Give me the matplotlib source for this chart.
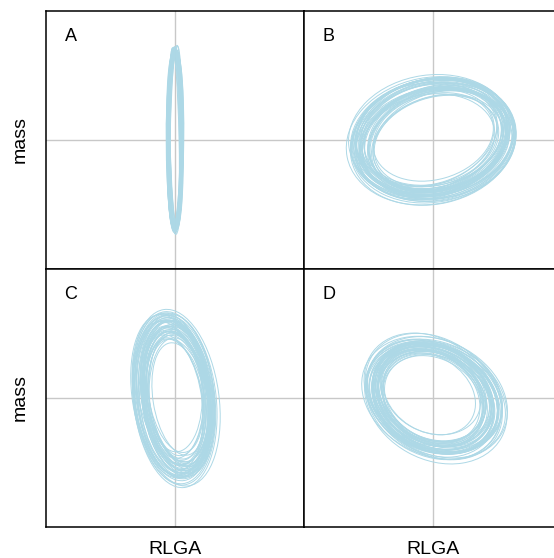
import matplotlib
matplotlib.use("Agg")
import matplotlib.pyplot as plt
from matplotlib.patches import Ellipse

plt.rcParams['font.family'] = ['Liberation Sans', 'DejaVu Sans']

# ellipse parameters per panel (full width, full height, angle in degrees, centre x, centre y)
A_w = [0.10, 0.12, 0.08, 0.11, 0.13, 0.09, 0.10, 0.12, 0.07, 0.11, 0.10, 0.09, 0.12, 0.13, 0.08,
       0.11, 0.10, 0.12, 0.09, 0.11, 0.10, 0.08, 0.13, 0.11, 0.09, 0.12, 0.10, 0.11, 0.08, 0.12]
A_h = [1.40, 1.38, 1.42, 1.36, 1.39, 1.43, 1.37, 1.41, 1.38, 1.35, 1.42, 1.40, 1.36, 1.39, 1.44,
       1.38, 1.41, 1.37, 1.40, 1.43, 1.36, 1.39, 1.38, 1.42, 1.37, 1.40, 1.41, 1.35, 1.39, 1.38]
A_ang = [0.5, -0.8, 1.0, -0.3, 0.2, -1.2, 0.7, -0.5, 1.3, -0.9, 0.1, 0.6, -0.4, 0.9, -1.0,
         0.3, -0.6, 1.1, -0.2, 0.4, -1.1, 0.8, -0.7, 0.0, 1.2, -0.1, 0.5, -1.3, 0.3, -0.4]
A_cx = [0.000, 0.005, -0.005, 0.003, -0.003, 0.004, -0.002, 0.001, -0.004, 0.002, 0.000, -0.005, 0.004, -0.001, 0.003,
        -0.003, 0.005, 0.000, -0.002, 0.002, -0.004, 0.001, 0.003, -0.001, 0.004, -0.005, 0.002, 0.000, -0.003, 0.001]
A_cy = [0.01, -0.01, 0.00, 0.02, -0.02, 0.01, 0.00, -0.01, 0.02, 0.00, -0.02, 0.01, 0.00, -0.01, 0.01,
        0.02, -0.01, 0.00, 0.01, -0.02, 0.00, 0.02, -0.01, 0.01, 0.00, -0.02, 0.01, 0.00, 0.02, -0.01]

B_w = [1.20, 1.10, 1.28, 1.05, 1.16, 1.24, 0.98, 1.14, 1.30, 1.08, 1.18, 1.22, 1.02, 1.12, 1.26,
       1.06, 1.20, 1.15, 0.95, 1.25, 1.10, 1.19, 1.32, 1.04, 1.13, 1.23, 1.00, 1.17, 1.27, 1.09,
       1.14, 1.21, 1.07, 1.29, 1.11, 1.17, 1.03, 1.24, 1.16, 1.12, 1.26, 1.08, 1.19, 1.13, 1.22]
B_h = [0.86, 0.78, 0.94, 0.72, 0.84, 0.90, 0.68, 0.80, 0.96, 0.76, 0.88, 0.82, 0.70, 0.79, 0.92,
       0.74, 0.85, 0.83, 0.66, 0.91, 0.77, 0.87, 0.98, 0.73, 0.81, 0.89, 0.69, 0.84, 0.93, 0.75,
       0.82, 0.88, 0.76, 0.95, 0.80, 0.85, 0.72, 0.90, 0.83, 0.79, 0.92, 0.77, 0.86, 0.81, 0.89]
B_ang = [12, 16, 8, 20, 14, 10, 18, 6, 13, 22, 11, 15, 9, 17, 12,
         19, 7, 14, 16, 10, 21, 13, 11, 17, 8, 15, 18, 12, 9, 14,
         13, 10, 16, 11, 15, 12, 18, 9, 14, 17, 10, 15, 11, 13, 16]
B_cx = [0.00, 0.03, -0.02, 0.04, -0.03, 0.01, 0.02, -0.04, 0.00, 0.03, -0.01, 0.02, -0.03, 0.04, 0.01,
        -0.02, 0.03, -0.01, 0.00, 0.02, -0.04, 0.01, -0.02, 0.03, 0.00, -0.03, 0.02, 0.01, -0.01, 0.04,
        0.01, -0.02, 0.02, 0.00, -0.01, 0.03, -0.03, 0.01, 0.02, -0.02, 0.00, 0.03, -0.01, 0.01, -0.03]
B_cy = [0.01, -0.02, 0.03, 0.00, -0.03, 0.02, -0.01, 0.04, -0.02, 0.01, 0.03, -0.04, 0.00, 0.02, -0.01,
        0.03, -0.03, 0.01, 0.02, -0.02, 0.00, 0.04, -0.01, -0.03, 0.02, 0.01, -0.02, 0.03, 0.00, -0.01,
        -0.02, 0.02, 0.00, -0.01, 0.03, -0.03, 0.01, 0.02, -0.02, 0.00, 0.01, -0.01, 0.03, -0.02, 0.02]

C_w = [0.52, 0.46, 0.60, 0.42, 0.56, 0.50, 0.64, 0.44, 0.54, 0.48, 0.58, 0.40, 0.53, 0.62, 0.47,
       0.55, 0.45, 0.59, 0.51, 0.43, 0.57, 0.49, 0.66, 0.46, 0.54, 0.41, 0.58, 0.50, 0.63, 0.47,
       0.53, 0.49, 0.56, 0.45, 0.60, 0.51, 0.48, 0.57, 0.52, 0.44, 0.55, 0.50, 0.58, 0.47, 0.54]
C_h = [1.16, 1.04, 1.30, 0.96, 1.22, 1.10, 1.36, 0.92, 1.18, 1.06, 1.26, 0.88, 1.14, 1.32, 1.02,
       1.20, 0.98, 1.28, 1.12, 0.94, 1.24, 1.08, 1.38, 1.00, 1.17, 0.90, 1.27, 1.11, 1.34, 1.05,
       1.15, 1.08, 1.21, 1.01, 1.29, 1.13, 1.06, 1.24, 1.18, 0.99, 1.19, 1.10, 1.25, 1.04, 1.16]
C_ang = [7, 5, 9, 4, 8, 11, 6, 3, 10, 7, 5, 9, 12, 6, 8,
         4, 10, 7, 5, 9, 6, 11, 8, 3, 7, 10, 5, 8, 6, 9,
         6, 8, 7, 5, 9, 7, 10, 6, 8, 4, 7, 9, 6, 8, 5]
C_cx = [0.00, 0.02, -0.03, 0.01, -0.02, 0.03, 0.00, -0.01, 0.02, -0.03, 0.01, 0.03, -0.02, 0.00, 0.02,
        -0.01, 0.03, -0.02, 0.01, 0.00, -0.03, 0.02, 0.01, -0.01, 0.03, 0.00, -0.02, 0.02, -0.01, 0.01,
        0.01, -0.01, 0.02, 0.00, -0.02, 0.01, 0.03, -0.01, 0.00, 0.02, -0.02, 0.01, 0.00, -0.01, 0.02]
C_cy = [0.02, -0.03, 0.00, 0.03, -0.01, 0.01, -0.02, 0.04, 0.00, -0.04, 0.02, -0.01, 0.03, -0.02, 0.01,
        0.00, -0.03, 0.02, 0.04, -0.01, 0.01, -0.02, 0.00, 0.03, -0.03, 0.02, 0.01, -0.04, 0.00, 0.02,
        -0.01, 0.02, 0.00, -0.02, 0.01, 0.03, -0.01, 0.00, 0.02, -0.03, 0.01, -0.02, 0.00, 0.03, -0.01]

D_w = [0.98, 0.90, 1.08, 0.82, 1.02, 0.94, 1.14, 0.78, 1.00, 0.88, 1.10, 0.84, 0.96, 1.16, 0.86,
       1.04, 0.80, 1.12, 0.92, 1.06, 0.76, 0.98, 1.18, 0.89, 1.03, 0.83, 1.11, 0.95, 1.07, 0.87,
       0.97, 1.01, 0.91, 1.05, 0.93, 0.99, 0.85, 1.09, 0.95, 0.90, 1.03, 0.88, 1.00, 0.94, 1.06]
D_h = [0.76, 0.70, 0.84, 0.64, 0.78, 0.72, 0.88, 0.60, 0.77, 0.68, 0.85, 0.66, 0.74, 0.90, 0.67,
       0.80, 0.62, 0.86, 0.71, 0.82, 0.58, 0.75, 0.89, 0.69, 0.79, 0.65, 0.83, 0.73, 0.81, 0.68,
       0.74, 0.78, 0.70, 0.81, 0.72, 0.76, 0.66, 0.84, 0.73, 0.69, 0.79, 0.68, 0.77, 0.71, 0.82]
D_ang = [-30, -26, -34, -22, -32, -28, -36, -24, -30, -38, -27, -33, -21, -29, -35,
         -25, -31, -37, -28, -23, -32, -30, -26, -34, -29, -39, -27, -31, -24, -33,
         -29, -31, -27, -33, -30, -25, -35, -28, -32, -26, -30, -34, -28, -31, -27]
D_cx = [0.00, -0.02, 0.03, 0.01, -0.03, 0.02, 0.00, -0.01, 0.03, -0.02, 0.01, 0.00, -0.03, 0.02, -0.01,
        0.03, 0.00, -0.02, 0.01, 0.02, -0.03, 0.00, 0.01, -0.01, 0.02, -0.02, 0.03, 0.00, -0.01, 0.01,
        -0.01, 0.02, 0.00, -0.02, 0.01, 0.03, -0.01, 0.00, 0.02, -0.03, 0.01, -0.02, 0.00, 0.02, -0.01]
D_cy = [0.01, 0.03, -0.02, 0.00, 0.02, -0.03, 0.01, 0.03, -0.01, 0.00, 0.02, -0.02, 0.01, -0.03, 0.03,
        0.00, -0.01, 0.02, -0.02, 0.01, 0.03, -0.03, 0.00, 0.02, -0.01, 0.01, -0.02, 0.03, 0.00, -0.01,
        0.02, -0.01, 0.00, 0.01, -0.02, 0.00, 0.02, -0.03, 0.01, 0.00, -0.01, 0.02, -0.02, 0.01, 0.00]

panels = [
    ("A", A_w, A_h, A_ang, A_cx, A_cy),
    ("B", B_w, B_h, B_ang, B_cx, B_cy),
    ("C", C_w, C_h, C_ang, C_cx, C_cy),
    ("D", D_w, D_h, D_ang, D_cx, D_cy),
]

fig = plt.figure(figsize=(5.54, 5.58), dpi=100)
W, H = 554, 558
size = 258
lefts = [46, 304.3]
tops = [10.5, 268.7]

for i, (lab, ws, hs, angs, cxs, cys) in enumerate(panels):
    row, col = divmod(i, 2)
    x0 = lefts[col]
    y0 = tops[row]
    ax = fig.add_axes([x0 / W, 1 - (y0 + size) / H, size / W, size / H])
    ax.set_xlim(-1, 1)
    ax.set_ylim(-1, 1)
    ax.axhline(0, color='#c8c8c8', lw=1.0, zorder=1)
    ax.axvline(0, color='#c8c8c8', lw=1.0, zorder=1)
    for w, h, a, cx, cy in zip(ws, hs, angs, cxs, cys):
        ax.add_patch(Ellipse((cx, cy), w, h, angle=a, fill=False,
                             edgecolor='lightblue', lw=0.7, zorder=2))
    ax.text(0.095, 0.9, lab, transform=ax.transAxes, ha='center', va='center', fontsize=13)
    ax.set_xticks([])
    ax.set_yticks([])
    for s in ax.spines.values():
        s.set_linewidth(1.1)
        s.set_color('black')

fig.text(20 / W, 1 - 139.5 / H, 'mass', rotation=90, ha='center', va='center', fontsize=14)
fig.text(20 / W, 1 - 397.7 / H, 'mass', rotation=90, ha='center', va='center', fontsize=14)
fig.text(175 / W, 1 - 549 / H, 'RLGA', ha='center', va='center', fontsize=14)
fig.text(433 / W, 1 - 549 / H, 'RLGA', ha='center', va='center', fontsize=14)

fig.savefig('out.png', dpi=100)
